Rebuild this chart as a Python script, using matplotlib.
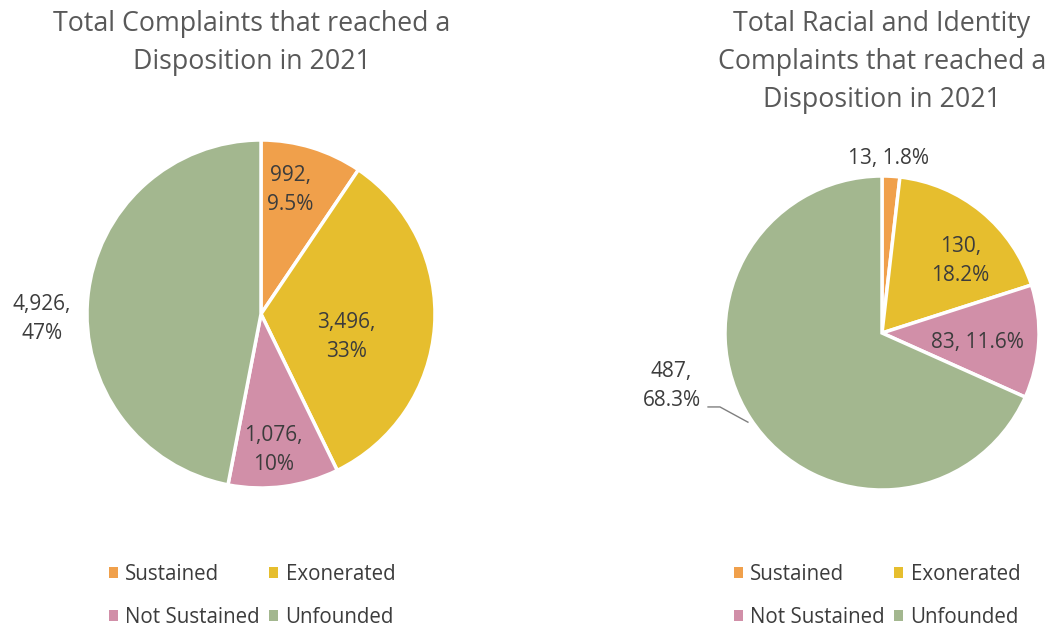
import matplotlib
matplotlib.use("Agg")
import matplotlib.pyplot as plt
from matplotlib.patches import Patch
import numpy as np

plt.rcParams['font.family'] = ['Open Sans', 'DejaVu Sans']

categories = ["Sustained", "Exonerated", "Not Sustained", "Unfounded"]
colors = ["#F0A04B", "#E6BE2E", "#D18FA8", "#A3B78F"]

total_values = [992, 3496, 1076, 4926]
total_labels = ["992,\n9.5%", "3,496,\n33%", "1,076,\n10%", "4,926,\n47%"]

racial_values = [13, 130, 83, 487]
racial_labels = ["13, 1.8%", "130,\n18.2%", "83, 11.6%", "487,\n68.3%"]

W, H = 1055, 627
fig = plt.figure(figsize=(W / 100, H / 100), dpi=100)
fig.patch.set_facecolor("white")

TEXT = "#3C3C3C"
TITLE = "#595959"


def make_axes(cx, cy, R, L=1.5):
    s = L * R
    ax = fig.add_axes([(cx - s) / W, 1 - (cy + s) / H, 2 * s / W, 2 * s / H])
    return ax, L


def finish(ax, L):
    ax.set_xlim(-L, L)
    ax.set_ylim(-L, L)
    ax.set_aspect("equal")
    ax.axis("off")


LBL = 15

# Left pie
ax1, L1 = make_axes(261, 314, 174)
ax1.pie(total_values, colors=colors, startangle=90, counterclock=False, radius=1,
        wedgeprops=dict(edgecolor="white", linewidth=2.5))
finish(ax1, L1)
left_pos = [(0.17, 0.71), (0.49, -0.13), (0.07, -0.78), (-1.26, -0.03)]
for (x, y), t in zip(left_pos, total_labels):
    ax1.text(x, y, t, ha="center", va="center", fontsize=LBL, color=TEXT, linespacing=1.5)

# Right pie
ax2, L2 = make_axes(882, 333, 157)
ax2.pie(racial_values, colors=colors, startangle=90, counterclock=False, radius=1,
        wedgeprops=dict(edgecolor="white", linewidth=2.5))
finish(ax2, L2)
right_pos = [(0.04, 1.11), (0.50, 0.46), (0.61, -0.06), (-1.34, -0.34)]
for (x, y), t in zip(right_pos, racial_labels):
    ax2.text(x, y, t, ha="center", va="center", fontsize=LBL, color=TEXT, linespacing=1.5)
ax2.plot([-1.108, -1.032, -0.854], [-0.471, -0.471, -0.568], color="#7F7F7F", lw=1, clip_on=False)

# Titles
fig.text(252 / W, 1 - 43 / H, "Total Complaints that reached a\nDisposition in 2021",
         ha="center", va="center", fontsize=19.3, color=TITLE, linespacing=1.48)
fig.text(882 / W, 1 - 62 / H, "Total Racial and Identity\nComplaints that reached a\nDisposition in 2021",
         ha="center", va="center", fontsize=19.3, color=TITLE, linespacing=1.48)

# Legends
order = [0, 2, 1, 3]
handles = [Patch(facecolor=colors[i], edgecolor="none") for i in order]
labels = [categories[i] for i in order]
for cx in (252, 877):
    fig.legend(handles, labels, ncol=2, loc="center",
               bbox_to_anchor=(cx / W, 1 - 596 / H), frameon=False,
               fontsize=14.8, labelcolor=TEXT, handlelength=0.45, handleheight=0.45,
               handletextpad=0.35, columnspacing=0.45, labelspacing=1.05)

fig.savefig("out.png", dpi=100, facecolor="white")
